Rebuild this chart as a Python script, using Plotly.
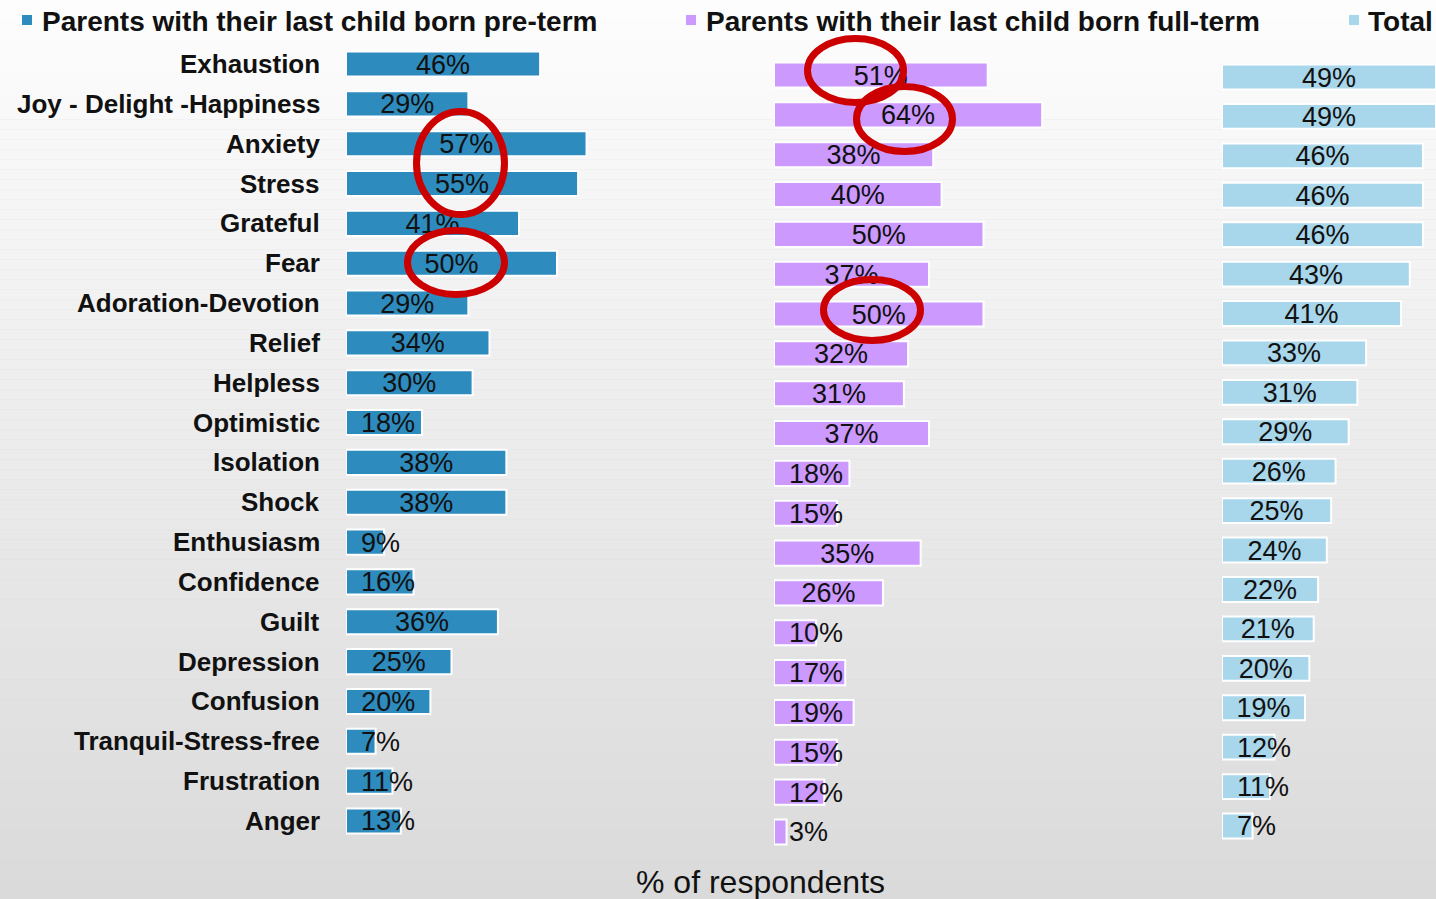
import plotly.graph_objects as go

categories = ["Exhaustion", "Joy - Delight -Happiness", "Anxiety", "Stress", "Grateful", "Fear",
              "Adoration-Devotion", "Relief", "Helpless", "Optimistic", "Isolation", "Shock",
              "Enthusiasm", "Confidence", "Guilt", "Depression", "Confusion",
              "Tranquil-Stress-free", "Frustration", "Anger"]
preterm = [46, 29, 57, 55, 41, 50, 29, 34, 30, 18, 38, 38, 9, 16, 36, 25, 20, 7, 11, 13]
fullterm = [51, 64, 38, 40, 50, 37, 50, 32, 31, 37, 18, 15, 35, 26, 10, 17, 19, 15, 12, 3]
total = [49, 49, 46, 46, 46, 43, 41, 33, 31, 29, 26, 25, 24, 22, 21, 20, 19, 12, 11, 7]
series_names = ["Parents with their last child born pre-term",
                "Parents with their last child born full-term", "Total"]
axis_title = "% of respondents"

W, H = 1436, 899
def px(x): return x / W
def py(y): return 1 - y / H

colors = ["#2E8BBE", "#CC99FF", "#A8D6EA"]
FONT = "Liberation Sans, Arial, sans-serif"
rows = list(range(len(categories)))

fig = go.Figure()

# panel geometry (pixels): x start, px per %, x range, first row center, row spacing
panels = [
    dict(x0=346, scale=4.22, xmax=70, y0=64, dy=39.84),
    dict(x0=774, scale=4.19, xmax=70, y0=75, dy=39.84),
    dict(x0=1222, scale=4.37, xmax=49, y0=77, dy=39.42),
]
series = [preterm, fullterm, total]
layout_axes = {}
TXT_DY = 0.07  # small downward nudge of value labels (row units)
for k, (p, vals, col) in enumerate(zip(panels, series, colors)):
    sfx = "" if k == 0 else str(k + 1)
    xa, ya = "x" + sfx, "y" + sfx
    fig.add_trace(go.Bar(
        x=vals, y=rows, orientation="h", xaxis=xa, yaxis=ya,
        marker=dict(color=col, line=dict(color="white", width=2)),
        width=0.63, showlegend=False, customdata=categories,
        hovertemplate="%{customdata}: %{x}%<extra></extra>"))
    # value labels
    thr = 41 / p["scale"]
    pad = 15 / p["scale"]
    cx, ctxt, lx, ltxt, cy, ly = [], [], [], [], [], []
    for v, r in zip(vals, rows):
        if v / 2 >= thr:
            cx.append(v / 2); cy.append(r + TXT_DY); ctxt.append(f"{v}%")
        else:
            lx.append(pad); ly.append(r + TXT_DY); ltxt.append(f"{v}%")
    fig.add_trace(go.Scatter(x=cx, y=cy, text=ctxt, mode="text", textposition="middle center",
                             xaxis=xa, yaxis=ya, cliponaxis=False, showlegend=False, hoverinfo="skip",
                             textfont=dict(family=FONT, size=27, color="#111111")))
    fig.add_trace(go.Scatter(x=lx, y=ly, text=ltxt, mode="text", textposition="middle right",
                             xaxis=xa, yaxis=ya, cliponaxis=False, showlegend=False, hoverinfo="skip",
                             textfont=dict(family=FONT, size=27, color="#111111")))
    x1 = min(W, p["x0"] + p["scale"] * p["xmax"])
    layout_axes["xaxis" + sfx] = dict(domain=[px(p["x0"]), px(x1)], range=[0, p["xmax"]],
                                      showticklabels=False, showgrid=False, zeroline=False,
                                      showline=False, anchor=ya, fixedrange=True)
    ytop = p["y0"] - p["dy"] * 0.5
    ybot = p["y0"] + p["dy"] * 19.5
    layout_axes["yaxis" + sfx] = dict(domain=[py(ybot), py(ytop)], type="linear",
                                      range=[19.5, -0.5], showticklabels=False, showgrid=False,
                                      zeroline=False, showline=False, anchor=xa, fixedrange=True)

annotations = []
# category labels
for r, c in zip(rows, categories):
    annotations.append(dict(x=px(322), y=r, xref="paper", yref="y", text=f"<b>{c}</b>",
                            xanchor="right", yanchor="middle", showarrow=False,
                            font=dict(family=FONT, size=26, color="#111111")))
# legend
shapes = []
leg = [(27, 40), (691, 704), (1354, 1366)]
for (sx, tx), name, col in zip(leg, series_names, colors):
    shapes.append(dict(type="rect", xref="paper", yref="paper", x0=px(sx - 5), x1=px(sx + 5),
                       y0=py(25), y1=py(15), fillcolor=col, line=dict(width=0), layer="above"))
    annotations.append(dict(x=px(tx), y=py(22), xref="paper", yref="paper", text=f"<b>{name}</b>",
                            xanchor="left", yanchor="middle", showarrow=False,
                            font=dict(family=FONT, size=28, color="#111111")))
annotations.append(dict(x=px(760), y=py(882), xref="paper", yref="paper", text=axis_title,
                        xanchor="center", yanchor="middle", showarrow=False,
                        font=dict(family=FONT, size=32, color="#111111")))

# background gradient
N = 90
top, bot = (253, 253, 253), (218, 218, 218)
bg = []
for i in range(N):
    t = i / (N - 1)
    c = tuple(round(top[j] + (bot[j] - top[j]) * t) for j in range(3))
    bg.append(dict(type="rect", xref="paper", yref="paper", x0=0, x1=1,
                   y0=1 - (i + 1) / N, y1=1 - i / N, fillcolor="rgb(%d,%d,%d)" % c,
                   line=dict(width=0), layer="below"))

# red highlight ellipses (pixel boxes, line centre)
ellipses = [(416.5, 111.5, 504.5, 214.5), (407.5, 230.5, 504.5, 294.5),
            (807.5, 38.5, 903.5, 102.5), (856.5, 86.5, 952.5, 151.5),
            (823.5, 279.5, 920.5, 340.5)]
for (a, b, c, d) in ellipses:
    shapes.append(dict(type="circle", xref="paper", yref="paper", x0=px(a), x1=px(c),
                       y0=py(d), y1=py(b), line=dict(color="#CC0000", width=7), layer="above"))

fig.update_layout(width=W, height=H, margin=dict(l=0, r=0, t=0, b=0),
                  paper_bgcolor="rgb(218,218,218)", plot_bgcolor="rgba(0,0,0,0)",
                  shapes=bg + shapes, annotations=annotations, bargap=0.37,
                  showlegend=False, **layout_axes)
fig.write_html("out.html", config={"displayModeBar": False},
               post_script="document.body.style.margin='0';document.body.style.overflow='hidden';")
